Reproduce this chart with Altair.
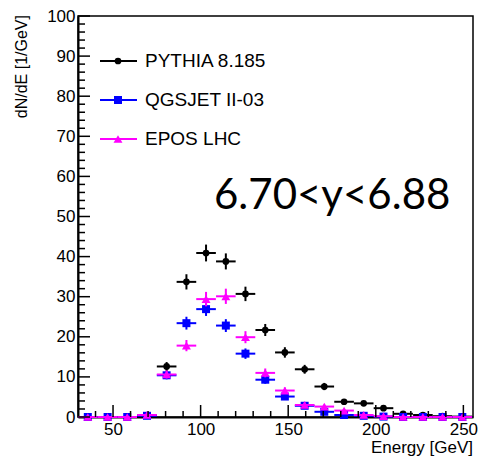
import altair as alt
import pandas as pd

# ---- data ----
bin_centers = [35.6, 46.9, 58.1, 69.4, 80.6, 91.9, 103.1, 114.4, 125.6, 136.9,
               148.1, 159.4, 170.6, 181.9, 193.1, 204.4, 215.6, 226.9, 238.1, 249.4]
bin_half_width = 5.6

series_names = ["PYTHIA 8.185", "QGSJET II-03", "EPOS LHC"]
pythia = [0, 0, 0, 0.4, 12.6, 33.7, 40.9, 38.8, 30.7, 21.7,
          16.1, 11.9, 7.6, 3.8, 3.4, 2.2, 0.8, 0.5, 0.2, 0.1]
pythia_err = [0, 0, 0, 0.3, 1.1, 1.9, 2.1, 2.0, 1.8, 1.5,
              1.3, 1.1, 0.9, 0.6, 0.6, 0.5, 0.3, 0.2, 0.1, 0.1]
qgsjet = [0, 0, 0, 0.3, 10.4, 23.4, 26.9, 22.8, 15.8, 9.3,
          5.1, 2.8, 1.3, 0.5, 0.3, 0.1, 0, 0, 0, 0]
qgsjet_err = [0, 0, 0, 0.2, 1.0, 1.6, 1.7, 1.6, 1.3, 1.0,
              0.7, 0.5, 0.4, 0.2, 0.2, 0.1, 0, 0, 0, 0]
epos = [0, 0, 0, 0.5, 10.6, 17.8, 29.4, 30.1, 19.9, 11.0,
        6.6, 3.0, 2.6, 1.6, 0.5, 0.2, 0, 0, 0, 0]
epos_err = [0, 0, 0, 0.2, 1.0, 1.4, 1.8, 1.9, 1.5, 1.1,
            0.8, 0.6, 0.5, 0.4, 0.2, 0.1, 0, 0, 0, 0]

x_major_ticks = [50, 100, 150, 200, 250]
x_minor_ticks = [40, 60, 70, 80, 90, 110, 120, 130, 140, 160, 170, 180, 190,
                 210, 220, 230, 240]
y_major_ticks = [0, 10, 20, 30, 40, 50, 60, 70, 80, 90, 100]
y_minor_ticks = [2, 4, 6, 8, 12, 14, 16, 18, 22, 24, 26, 28, 32, 34, 36, 38,
                 42, 44, 46, 48, 52, 54, 56, 58, 62, 64, 66, 68, 72, 74, 76, 78,
                 82, 84, 86, 88, 92, 94, 96, 98]

annotation = "6.70<y<6.88"
x_title = "Energy [GeV]"
y_title = "dN/dE [1/GeV]"

# ---- styling ----
colors = ["#000000", "#0000ff", "#ff00ff"]
shapes = ["circle", "square", "triangle-up"]
sizes = [45, 64, 80]
FONT = "Liberation Sans"
W, H = 395, 401

xs = alt.Scale(domain=[30, 255.5], nice=False, zero=False)
ys = alt.Scale(domain=[0, 100], nice=False)
x_axis = alt.Axis(values=x_major_ticks, title=None, ticks=False, grid=False,
                  domain=True, domainWidth=2, domainColor="black",
                  labelFont=FONT, labelFontSize=17, labelColor="black",
                  labelPadding=4)
y_axis = alt.Axis(values=y_major_ticks, title=None, ticks=False, grid=False,
                  domain=True, domainWidth=2, domainColor="black",
                  labelFont=FONT, labelFontSize=17, labelColor="black",
                  labelPadding=3)

layers = []
all_vals = [(pythia, pythia_err), (qgsjet, qgsjet_err), (epos, epos_err)]
for i, (vals, errs) in enumerate(all_vals):
    df = pd.DataFrame({
        "x": bin_centers,
        "xlo": [c - bin_half_width for c in bin_centers],
        "xhi": [c + bin_half_width for c in bin_centers],
        "y": vals,
        "ylo": [v - e for v, e in zip(vals, errs)],
        "yhi": [v + e for v, e in zip(vals, errs)],
    })
    base = alt.Chart(df)
    hbar = base.mark_rule(color=colors[i], strokeWidth=2).encode(
        x=alt.X("xlo:Q", scale=xs, axis=x_axis), x2="xhi:Q",
        y=alt.Y("y:Q", scale=ys, axis=y_axis))
    vbar = base.mark_rule(color=colors[i], strokeWidth=2).encode(
        x=alt.X("x:Q", scale=xs, axis=x_axis),
        y=alt.Y("ylo:Q", scale=ys, axis=y_axis), y2="yhi:Q")
    pts = base.mark_point(filled=True, opacity=1, color=colors[i],
                          shape=shapes[i], size=sizes[i]).encode(
        x=alt.X("x:Q", scale=xs, axis=x_axis),
        y=alt.Y("y:Q", scale=ys, axis=y_axis))
    layers += [hbar, vbar, pts]

# inward ticks
xmaj = alt.Chart(pd.DataFrame({"t": x_major_ticks})).mark_rule(color="black", strokeWidth=1.5).encode(
    x=alt.X("t:Q", scale=xs, axis=x_axis), y=alt.value(H), y2=alt.value(H - 12))
xmin = alt.Chart(pd.DataFrame({"t": x_minor_ticks})).mark_rule(color="black", strokeWidth=1.5).encode(
    x=alt.X("t:Q", scale=xs, axis=x_axis), y=alt.value(H), y2=alt.value(H - 6))
ymaj = alt.Chart(pd.DataFrame({"t": y_major_ticks})).mark_rule(color="black", strokeWidth=1.5).encode(
    y=alt.Y("t:Q", scale=ys, axis=y_axis), x=alt.value(0), x2=alt.value(12))
ymin = alt.Chart(pd.DataFrame({"t": y_minor_ticks})).mark_rule(color="black", strokeWidth=1.5).encode(
    y=alt.Y("t:Q", scale=ys, axis=y_axis), x=alt.value(0), x2=alt.value(7))
layers += [xmaj, xmin, ymaj, ymin]

# legend
legend_rows = [45, 84, 123]
for i, name in enumerate(series_names):
    ldf = pd.DataFrame({"name": [name]})
    lb = alt.Chart(ldf)
    layers.append(lb.mark_rule(color=colors[i], strokeWidth=2).encode(
        x=alt.value(22), x2=alt.value(59), y=alt.value(legend_rows[i])))
    layers.append(lb.mark_point(filled=True, opacity=1, color=colors[i], shape=shapes[i],
                                size=sizes[i]).encode(
        x=alt.value(40), y=alt.value(legend_rows[i])))
    layers.append(lb.mark_text(align="left", baseline="middle", font=FONT, fontSize=19,
                               color="black").encode(
        x=alt.value(67), y=alt.value(legend_rows[i]), text="name:N"))

# texts
tdf = pd.DataFrame({"a": [annotation], "xt": [x_title], "yt": [y_title]})
tb = alt.Chart(tdf)
layers.append(tb.mark_text(align="left", baseline="alphabetic", font="Lato", fontSize=42,
                           color="black").encode(x=alt.value(136), y=alt.value(193), text="a:N"))
layers.append(tb.mark_text(align="right", baseline="alphabetic", font=FONT, fontSize=17,
                           color="black").encode(x=alt.value(W), y=alt.value(H + 36), text="xt:N"))
layers.append(tb.mark_text(align="right", baseline="middle", font=FONT, fontSize=16, angle=270,
                           color="black").encode(x=alt.value(-56), y=alt.value(-1), text="yt:N"))

chart = alt.layer(*layers).properties(
    width=W, height=H,
    autosize=alt.AutoSizeParams(type="none"),
    padding={"left": 78, "top": 16, "right": 7, "bottom": 39},
    background="white",
).configure_view(stroke="black", strokeWidth=1.5)

chart.save("out.html", embed_options={"renderer": "svg", "actions": False})
